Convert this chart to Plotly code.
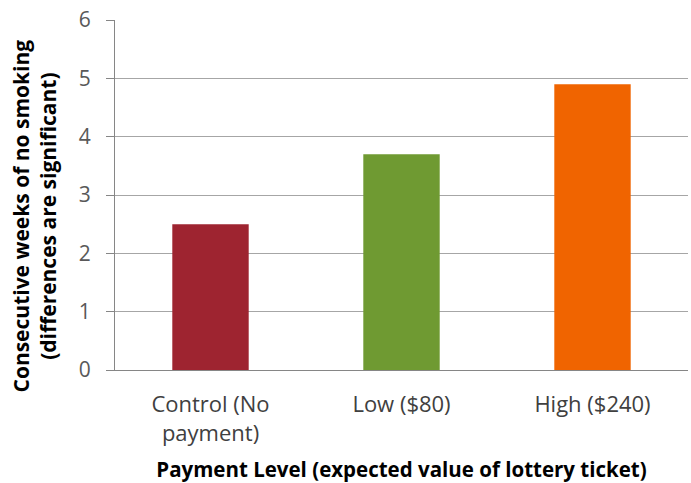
import plotly.graph_objects as go

categories = ["Control (No<br>payment)", "Low ($80)", "High ($240)"]
values = [2.5, 3.7, 4.9]
colors = ["#9E2430", "#6F9A32", "#F06400"]
y_ticks = [0, 1, 2, 3, 4, 5, 6]
y_title = "Consecutive weeks of no smoking<br>(differences are significant)"
x_title = "Payment Level (expected value of lottery ticket)"

FONT = "Open Sans"

fig = go.Figure(go.Bar(
    x=categories, y=values,
    marker=dict(color=colors, line=dict(width=0)),
    width=0.4,
))

fig.update_layout(
    width=691, height=483,
    margin=dict(l=115, r=3, t=20, b=113, autoexpand=False),
    plot_bgcolor="white", paper_bgcolor="white",
    showlegend=False,
    font=dict(family=FONT, color="#404040"),
)
fig.update_yaxes(
    range=[0, 6], tickvals=y_ticks, automargin=False,
    showgrid=True, gridcolor="#A6A6A6", gridwidth=1,
    showline=True, linecolor="#868686", linewidth=1,
    ticks="outside", ticklen=8, tickcolor="#868686",
    tickfont=dict(size=21, color="#595959", family=FONT),
    ticklabelstandoff=11,
    zeroline=False,
)
fig.update_xaxes(
    showline=True, linecolor="#868686", linewidth=1, automargin=False,
    ticks="", tickfont=dict(size=22, color="#404040", family=FONT),
    ticklabelstandoff=15,
    title=dict(text="<b>" + x_title + "</b>",
               font=dict(size=20.5, color="#000000", family=FONT), standoff=21),
)
fig.add_annotation(
    text="<b>" + y_title + "</b>", textangle=-90,
    xref="paper", yref="paper", x=0, y=0.44,
    xanchor="right", yanchor="middle", xshift=-52,
    showarrow=False, font=dict(size=21, color="#000000", family=FONT),
)

fig.write_html("out.html", config={"displayModeBar": False},
               post_script="document.body.style.margin='0';")
